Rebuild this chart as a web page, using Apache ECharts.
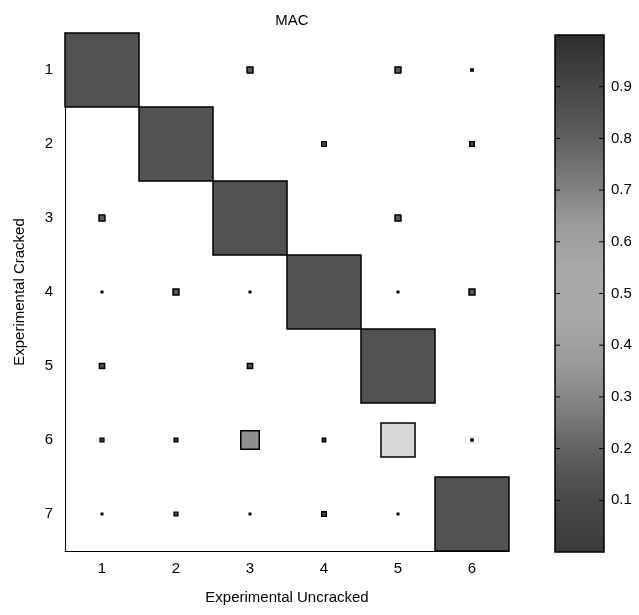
<!DOCTYPE html>
<html>
<head>
<meta charset="utf-8">
<script src="https://cdn.jsdelivr.net/npm/echarts@6/dist/echarts.min.js"></script>
<style>
  html, body { margin: 0; padding: 0; background: #fff; }
  #chart { width: 639px; height: 615px; }
</style>
</head>
<body>
<div id="chart"></div>
<script>
// modes (columns = uncracked, rows = cracked)
const uncrackedModes = ['1', '2', '3', '4', '5', '6'];
const crackedModes = ['1', '2', '3', '4', '5', '6', '7'];

// MAC values, one row per cracked mode
const macRows = [
  [1.00, 0,    0.08, 0,    0.08, 0.03],
  [0,    1.00, 0,    0.06, 0,    0.06],
  [0.08, 0,    1.00, 0,    0.08, 0],
  [0.02, 0.08, 0.02, 1.00, 0.02, 0.08],
  [0.07, 0,    0.07, 0,    1.00, 0],
  [0.05, 0.05, 0.25, 0.045, 0.46, 0.03],
  [0.02, 0.05, 0.02, 0.06, 0.02, 1.00]
];

// colour bar ticks
const colorbarTicks = [0.1, 0.2, 0.3, 0.4, 0.5, 0.6, 0.7, 0.8, 0.9];

const cell = 74; // px per category
const font = 'Liberation Sans, Arial, sans-serif';

// grey levels used for the squares
const squareStops = [[0, 60], [0.24, 138], [0.46, 216], [1, 82]];
function squareGray(v) {
  for (let i = 1; i < squareStops.length; i++) {
    const a = squareStops[i - 1], b = squareStops[i];
    if (v <= b[0]) {
      const g = Math.round(a[1] + (b[1] - a[1]) * (v - a[0]) / (b[0] - a[0]));
      return 'rgb(' + g + ',' + g + ',' + g + ')';
    }
  }
  return 'rgb(82,82,82)';
}

let points = [];
macRows.forEach((row, r) => {
  row.forEach((v, c) => {
    if (v > 0) points.push([uncrackedModes[c], crackedModes[r], v]);
  });
});

let myChart = echarts.init(document.getElementById('chart'));

// colour bar, low -> high
const barColors = ['#3a3a3a', '#474747', '#5c5c5c', '#7e7e7e', '#9a9a9a', '#a9a9a9',
  '#a9a9a9', '#9a9a9a', '#787878', '#5a5a5a', '#444444', '#2e2e2e'];

let options = {
  backgroundColor: '#fff',
  animation: false,
  textStyle: { fontFamily: font },
  title: {
    text: 'MAC',
    left: 287,
    top: 8,
    textAlign: 'center',
    textStyle: { fontSize: 15, fontWeight: 'normal', color: '#000', fontFamily: font }
  },
  visualMap: {
    type: 'continuous',
    seriesIndex: 1,
    min: 0, max: 1,
    calculable: false,
    text: null,
    showLabel: false,
    left: 555, top: 35,
    padding: 0,
    z: 0,
    itemWidth: 49, itemHeight: 517,
    inRange: { color: barColors }
  },
  grid: [
    { left: 65, top: 33, width: 444, height: 518 },
    { left: 555, top: 35, width: 49, height: 517, show: false }
  ],
  xAxis: [
    {
      gridIndex: 0,
      type: 'category',
      data: uncrackedModes,
      name: 'Experimental Uncracked',
      nameLocation: 'middle',
      nameGap: 39,
      nameTextStyle: { fontSize: 15, color: '#000', fontFamily: font },
      axisLine: { lineStyle: { color: '#000', width: 1 } },
      axisTick: { inside: true, alignWithLabel: true, length: 5, lineStyle: { color: '#000' } },
      axisLabel: { fontSize: 15, color: '#000', margin: 10 },
      splitLine: { show: false }
    },
    {
      gridIndex: 1, type: 'value', min: 0, max: 1, show: false
    }
  ],
  yAxis: [
    {
      gridIndex: 0,
      type: 'category',
      data: crackedModes,
      inverse: true,
      name: 'Experimental Cracked',
      nameLocation: 'middle',
      nameGap: 38,
      nameTextStyle: { fontSize: 15, color: '#000', fontFamily: font },
      axisLine: { lineStyle: { color: '#000', width: 1 } },
      axisTick: { inside: true, alignWithLabel: true, length: 5, lineStyle: { color: '#000' } },
      axisLabel: { fontSize: 15, color: '#000', margin: 12 },
      splitLine: { show: false }
    },
    {
      gridIndex: 1,
      type: 'value',
      position: 'right',
      min: 0, max: 1, interval: 0.1,
      axisLine: { show: false },
      axisTick: { show: false },
      axisLabel: { fontSize: 15, color: '#000', margin: 7,
        formatter: v => (v > 0.05 && v < 0.95) ? v.toFixed(1) : '' },
      splitLine: { show: false }
    }
  ],
  series: [
    {
      type: 'scatter',
      xAxisIndex: 0,
      yAxisIndex: 0,
      symbol: 'rect',
      symbolSize: v => v[2] * cell,
      data: points,
      itemStyle: {
        opacity: 1,
        color: p => squareGray(p.value[2]),
        borderColor: '#000',
        borderWidth: 1.5
      },
      emphasis: { disabled: true }
    },
    {
      // colour bar frame and inner ticks
      type: 'custom',
      xAxisIndex: 1,
      yAxisIndex: 1,
      z: 10,
      silent: true,
      data: colorbarTicks.map(t => [0, t]),
      renderItem: (params, api) => {
        const p = api.coord([0, api.value(1)]);
        const x1 = p[0] + 49;
        const ticks = [
          { type: 'line', shape: { x1: p[0], y1: p[1], x2: p[0] + 5, y2: p[1] },
            style: { stroke: '#000', lineWidth: 1 } },
          { type: 'line', shape: { x1: x1 - 5, y1: p[1], x2: x1, y2: p[1] },
            style: { stroke: '#000', lineWidth: 1 } }
        ];
        if (params.dataIndex === 0) {
          const top = api.coord([0, 1]);
          const bot = api.coord([0, 0]);
          ticks.push({ type: 'rect',
            shape: { x: top[0], y: top[1], width: 49, height: bot[1] - top[1] },
            style: { fill: null, stroke: '#000', lineWidth: 1.5 } });
        }
        return { type: 'group', children: ticks };
      }
    }
  ]
};
myChart.setOption(options);
</script>
</body>
</html>
